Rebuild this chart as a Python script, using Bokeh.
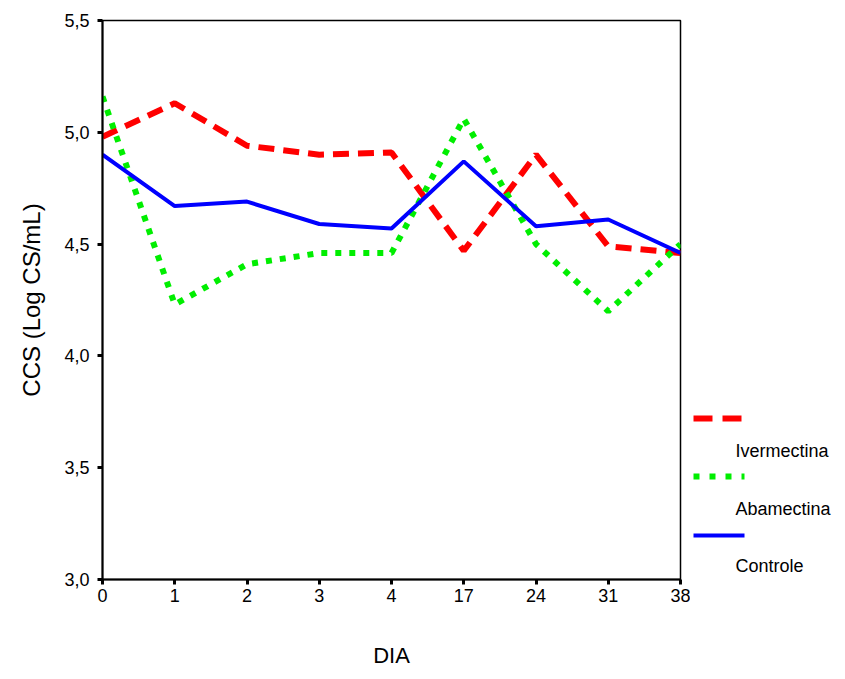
from bokeh.plotting import figure
from bokeh.layouts import row
from bokeh.models import Range1d, FixedTicker
from bokeh.core.properties import value
from bokeh.embed import file_html
from bokeh.resources import INLINE

dias = ["0", "1", "2", "3", "4", "17", "24", "31", "38"]
ivermectina = [4.98, 5.13, 4.94, 4.90, 4.91, 4.47, 4.90, 4.49, 4.46]
abamectina = [5.16, 4.23, 4.41, 4.46, 4.46, 5.06, 4.50, 4.20, 4.50]
controle = [4.90, 4.67, 4.69, 4.59, 4.57, 4.87, 4.58, 4.61, 4.46]
y_ticks = [3.0, 3.5, 4.0, 4.5, 5.0, 5.5]
y_tick_labels = ["3,0", "3,5", "4,0", "4,5", "5,0", "5,5"]
series_names = ["Ivermectina", "Abamectina", "Controle"]

FONT = "Liberation Sans"
xs = list(range(len(dias)))

H = 679
TOP, BOTTOM = 20, 100
p = figure(width=690, height=H, output_backend="svg", toolbar_location=None,
           x_range=Range1d(0, len(dias) - 1), y_range=Range1d(3.0, 5.5),
           min_border_left=102, min_border_right=10, min_border_top=TOP, min_border_bottom=BOTTOM)
p.grid.visible = False
p.outline_line_color = "black"
p.outline_line_width = 1.5
p.background_fill_color = "white"
p.border_fill_color = "white"

p.line(xs, ivermectina, line_color="#ff0000", line_width=6, line_dash="16 9")
p.line(xs, abamectina, line_color="#00ee00", line_width=6, line_dash="6 8")
p.line(xs, controle, line_color="#0000ff", line_width=4)

for ax in (p.xaxis[0], p.yaxis[0]):
    ax.axis_line_color = "black"
    ax.axis_line_width = 2
    ax.major_tick_line_color = "black"
    ax.major_tick_line_width = 3
    ax.major_tick_out = 5
    ax.major_tick_in = 0
    ax.minor_tick_line_color = None
    ax.major_label_text_font = FONT
    ax.major_label_text_font_size = "18px"
    ax.major_label_text_color = "black"
    ax.axis_label_text_font = FONT
    ax.axis_label_text_font_style = "normal"
    ax.axis_label_text_color = "black"

p.xaxis.ticker = FixedTicker(ticks=xs)
p.xaxis.major_label_overrides = {i: d for i, d in enumerate(dias)}
p.xaxis.axis_label = "DIA"
p.xaxis.axis_label_text_font_size = "22px"
p.xaxis.axis_label_standoff = 38
p.xaxis.major_label_standoff = 4

p.yaxis.ticker = FixedTicker(ticks=y_ticks)
p.yaxis.major_label_overrides = {t: l for t, l in zip(y_ticks, y_tick_labels)}
p.yaxis.axis_label = "CCS (Log CS/mL)"
p.yaxis.axis_label_text_font_size = "24px"
p.yaxis.axis_label_standoff = 16
p.yaxis.major_label_standoff = 8

# legend panel (frame aligned with the main frame; y measured in page pixels)
lg = figure(width=155, height=H, output_backend="svg", toolbar_location=None,
            x_range=Range1d(0, 155), y_range=Range1d(H - BOTTOM, TOP),
            x_axis_location=None, y_axis_location=None,
            min_border_left=0, min_border_right=0, min_border_top=TOP, min_border_bottom=BOTTOM)
lg.grid.visible = False
lg.outline_line_color = None
lg.background_fill_color = "white"
lg.border_fill_color = "white"

styles = [dict(line_color="#ff0000", line_width=6, line_dash="19 10"),
          dict(line_color="#00ee00", line_width=6, line_dash="6 10"),
          dict(line_color="#0000ff", line_width=4)]
line_y = [418, 476, 535]
text_y = [450, 508, 565]
for name, st, ly, ty in zip(series_names, styles, line_y, text_y):
    lg.line([3, 54], [ly, ly], **st)
    lg.text([45], [ty], text=[name], text_font=value(FONT), text_font_size="18px",
            text_baseline="middle", text_align="left", text_color="black")

layout = row(p, lg)
open("out.html", "w").write(file_html(layout, INLINE))
